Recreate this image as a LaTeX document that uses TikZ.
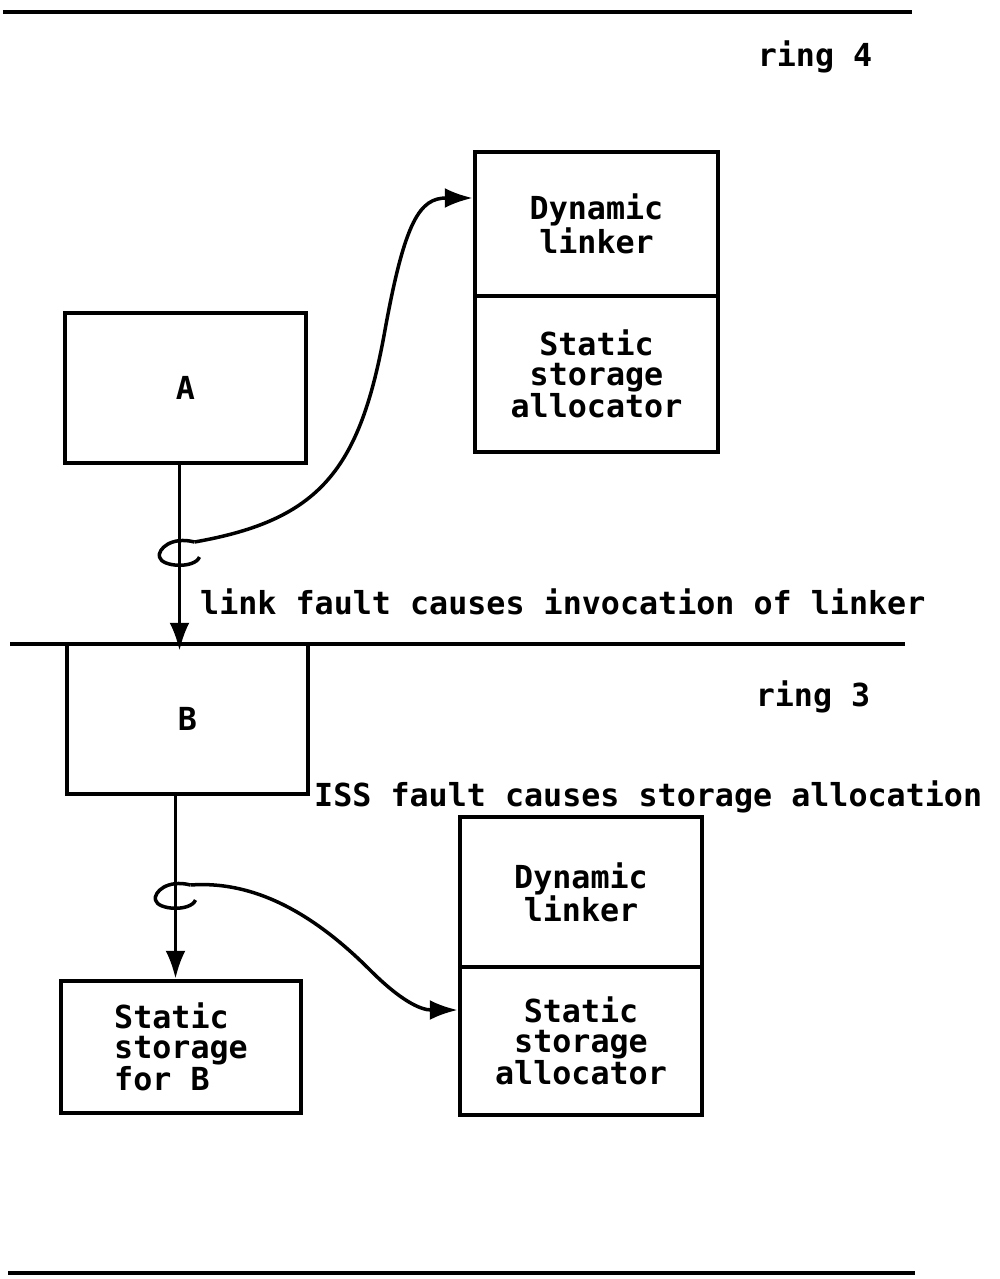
\documentclass[tikz,border=0pt]{standalone}
\usepackage{fontspec}
\setmonofont{DejaVu Sans Mono}
\usetikzlibrary{arrows.meta}
\tikzset{
  curl/.pic={\draw[line width=3.5pt] (15,-13) .. controls (-8,-19) and (-22,-6) .. (-20,2) .. controls (-18,12) and (15,14) .. (20,2);}
}
\begin{document}
\begin{tikzpicture}[x=1pt,y=-1pt,>={Latex[length=28pt,width=20pt]},
  every node/.style={font={\ttfamily\bfseries\fontsize{31.7}{30}\selectfont}},
  box/.style={draw,line width=4.5pt,inner sep=0pt,align=center},
  wire/.style={line width=3.5pt},
  ringline/.style={line width=3.5pt}]
  \useasboundingbox (0,0) rectangle (999,1279);
  \draw[ringline] (3,12) -- (912,12);
  \draw[ringline] (10,644) -- (905,644);
  \draw[ringline] (8,1273) -- (915,1273);
  \node (ringfour) at (815,57) {ring 4};
  \node (ringthree) at (813,697) {ring 3};
  \node[box,minimum width=243pt,minimum height=144pt] (linkerup) at (596.5,224) {Dynamic\\linker};
  \node[box,minimum width=243pt,minimum height=156pt] (allocup) at (596.5,374) {Static\\storage\\allocator};
  \node[box,minimum width=241pt,minimum height=150pt] (procA) at (185.5,388) {A};
  \node[box,minimum width=241pt,minimum height=150pt] (procB) at (187.5,719) {B};
  \node[box,minimum width=242pt,minimum height=150pt] (linkerlo) at (581,892) {Dynamic\\linker};
  \node[box,minimum width=242pt,minimum height=148pt] (alloclo) at (581,1041) {Static\\storage\\allocator};
  \node[box,minimum width=240pt,minimum height=132pt,align=left] (storB) at (181,1047) {Static\\storage\\for B};
  \node[anchor=west,inner sep=0pt] (linkfault) at (200,602) {link fault causes invocation of linker};
  \node[anchor=west,inner sep=0pt] (issfault) at (314,797) {ISS fault causes storage allocation};
  \draw[wire,->,shorten >=-9pt] ([xshift=-6pt]procA.south) -- ([xshift=-6pt]procA.south |- procB.north);
  \draw[wire,->] ([xshift=-12pt]procB.south) -- ([xshift=-12pt]procB.south |- storB.north);
  \coordinate (hookA) at (179.5,555);
  \coordinate (hookB) at (175.5,898);
  \pic at (hookA) {curl};
  \pic at (hookB) {curl};
  \coordinate (curlA) at ([shift={(15,-13)}]hookA);
  \coordinate (curlB) at ([shift={(15,-13)}]hookB);
  \draw[wire,->] (curlA) .. controls (320,520) and (360,470) .. (385,330) .. controls (405,220) and (420,198) .. ([yshift=26pt]linkerup.west);
  \draw[wire,->] (curlB) .. controls (260,880) and (320,920) .. (370,970) .. controls (400,1000) and (420,1010) .. ([yshift=31pt]alloclo.west);
\end{tikzpicture}
\end{document}
